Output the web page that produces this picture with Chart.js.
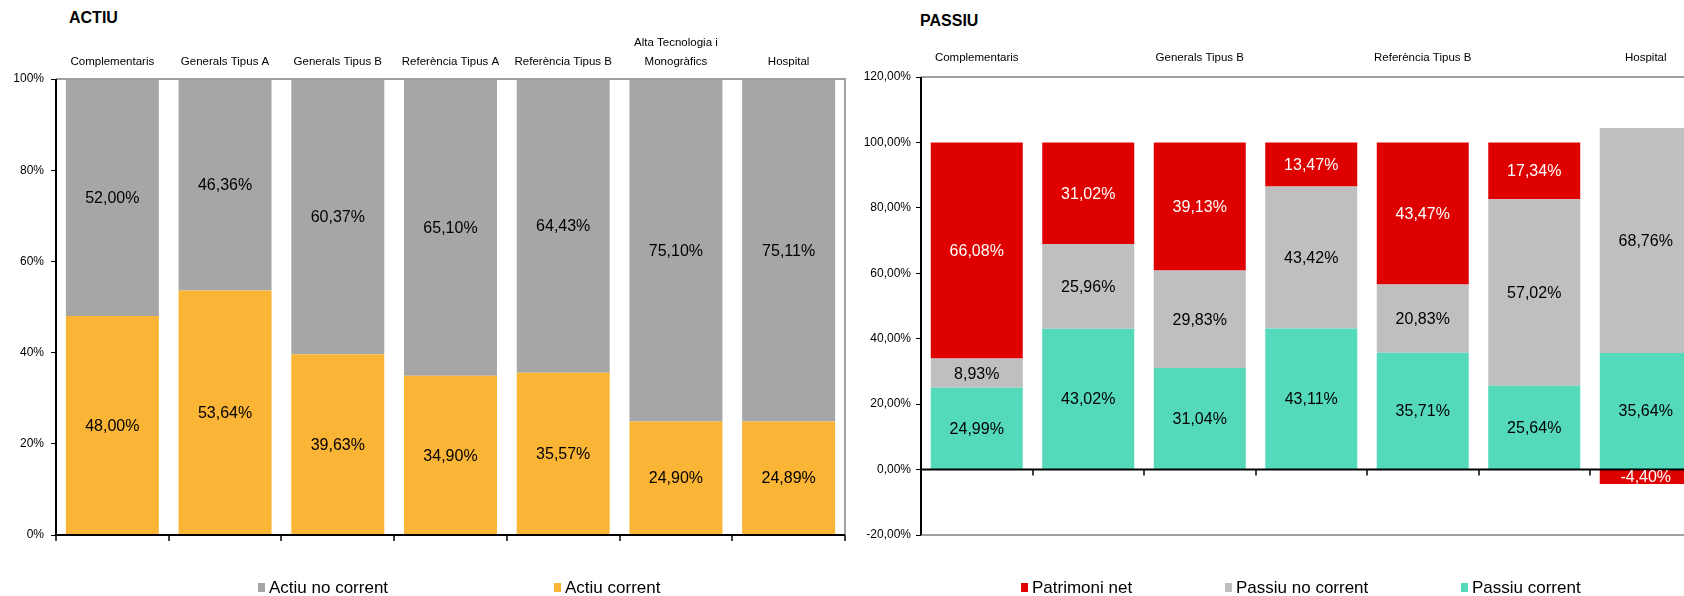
<!DOCTYPE html>
<html><head><meta charset="utf-8">
<script src="https://cdn.jsdelivr.net/npm/chart.js@4.4.0/dist/chart.umd.min.js"></script>
<style>
html,body{margin:0;padding:0;background:#fff;width:1684px;height:596px;overflow:hidden;position:relative;font-family:"Liberation Sans",Arial,sans-serif;}
.box{position:absolute;top:0;height:596px;}
#lbox{left:0;width:846px;}
#rbox{left:846px;width:880px;}
.title{position:absolute;font-weight:bold;font-size:16px;line-height:20px;color:#000;}
.leg{position:absolute;top:578px;height:20px;font-size:17px;line-height:20px;color:#000;white-space:nowrap;}
.leg i{position:absolute;left:0;top:5px;width:7px;height:9px;}
.leg span{position:absolute;left:11px;top:0;}
</style></head>
<body>
<div class="title" style="left:69px;top:8px;">ACTIU</div>
<div class="title" style="left:920px;top:11px;">PASSIU</div>
<div class="box" id="lbox"><canvas id="c1"></canvas></div>
<div class="box" id="rbox"><canvas id="c2"></canvas></div>
<div id="legends"></div>
<script>
// ---------- DATA ----------
const categories = ['Complementaris','Generals Tipus A','Generals Tipus B','Referència Tipus A','Referència Tipus B','Alta Tecnologia i Monogràfics','Hospital'];
const actiuTickLabels = ['Complementaris','Generals Tipus A','Generals Tipus B','Referència Tipus A','Referència Tipus B',['Alta Tecnologia i','Monogràfics'],'Hospital'];
const passiuTickLabels = ['Complementaris','','Generals Tipus B','','Referència Tipus B','','Hospital'];

const actiuCorrent   = [48.00, 53.64, 39.63, 34.90, 35.57, 24.90, 24.89];
const actiuNoCorrent = [52.00, 46.36, 60.37, 65.10, 64.43, 75.10, 75.11];

const passiuCorrent   = [24.99, 43.02, 31.04, 43.11, 35.71, 25.64, 35.64];
const passiuNoCorrent = [ 8.93, 25.96, 29.83, 43.42, 20.83, 57.02, 68.76];
const patrimoniNet    = [66.08, 31.02, 39.13, 13.47, 43.47, 17.34, -4.40];

const actiuYTicks  = [0, 20, 40, 60, 80, 100];
const passiuYTicks = [-20, 0, 20, 40, 60, 80, 100, 120];

// ---------- STYLE ----------
const FONT = '"Liberation Sans", Arial, sans-serif';
const COL = {acNo:'#A6A6A6', ac:'#FBB536', pat:'#DF0000', pNo:'#BFBFBF', pc:'#54D9BB'};
const fmt2 = v => v.toFixed(2).replace('.', ',') + '%';

const framePlugin = {
  id: 'frame',
  afterDatasetsDraw(chart, args, opts) {
    const {ctx, chartArea: a, scales: {x, y}} = chart;
    ctx.save();
    ctx.lineWidth = 2;
    ctx.strokeStyle = '#A0A0A0';
    ctx.beginPath();
    ctx.moveTo(a.left, a.top); ctx.lineTo(a.right, a.top); ctx.lineTo(a.right, a.bottom);
    if (opts.bottomGray) ctx.lineTo(a.left, a.bottom);
    ctx.stroke();
    ctx.strokeStyle = '#000';
    ctx.beginPath(); ctx.moveTo(a.left, a.top); ctx.lineTo(a.left, a.bottom + (opts.bottomGray ? 0 : 1)); ctx.stroke();
    const y0 = y.getPixelForValue(0);
    ctx.beginPath(); ctx.moveTo(a.left - 1, y0); ctx.lineTo(a.right, y0); ctx.stroke();
    ctx.lineWidth = 1.5;
    const n = chart.data.labels.length;
    for (let i = 0; i <= n; i++) {
      const px = Math.round(x.getPixelForValue(i - 0.5));
      ctx.beginPath(); ctx.moveTo(px, y0); ctx.lineTo(px, y0 + 6); ctx.stroke();
    }
    ctx.restore();
  }
};

const labelPlugin = {
  id: 'vlabels',
  afterDatasetsDraw(chart) {
    const ctx = chart.ctx;
    ctx.save();
    ctx.font = '16px ' + FONT;
    ctx.textAlign = 'center';
    ctx.textBaseline = 'middle';
    chart.data.datasets.forEach((ds, di) => {
      const meta = chart.getDatasetMeta(di);
      meta.data.forEach((el, i) => {
        const p = el.getProps(['x', 'y', 'base'], true);
        ctx.fillStyle = ds.labelColor;
        ctx.fillText(fmt2(ds.data[i]), p.x, (p.y + p.base) / 2 + 1);
      });
    });
    ctx.restore();
  }
};

function makeChart(id, datasets, yTicks, yFmt, tickLabels, yWidth, xHeight, xPad, yPad, padRight, bottomGray) {
  return new Chart(document.getElementById(id), {
    type: 'bar',
    data: {labels: categories, datasets: datasets},
    options: {
      responsive: true, maintainAspectRatio: false, animation: false,
      layout: {padding: {left: 0, right: padRight, top: 0, bottom: 61}},
      plugins: {legend: {display: false}, tooltip: {enabled: false}, frame: {bottomGray: bottomGray}},
      datasets: {bar: {categoryPercentage: 1, barPercentage: 0.825, borderWidth: 0}},
      scales: {
        x: {
          stacked: true, position: 'top', offset: true,
          grid: {display: false}, border: {display: false},
          ticks: {autoSkip: false, maxRotation: 0, color: '#000', padding: xPad,
                  font: {size: 11.5, family: FONT, lineHeight: '19px'},
                  callback: (v, i) => tickLabels[i]},
          afterFit(s) { s.height = xHeight; }
        },
        y: {
          stacked: true, min: yTicks[0], max: yTicks[yTicks.length - 1],
          afterBuildTicks(s) { s.ticks = yTicks.map(v => ({value: v})); },
          ticks: {color: '#000', padding: yPad, font: {size: 12, family: FONT}, callback: v => yFmt(v)},
          grid: {drawOnChartArea: false, drawTicks: true, tickLength: 5, color: '#000', lineWidth: 1},
          border: {display: false},
          afterFit(s) { s.width = yWidth; }
        }
      }
    },
    plugins: [framePlugin, labelPlugin]
  });
}

makeChart('c1', [
  {label: 'Actiu corrent', data: actiuCorrent, backgroundColor: COL.ac, labelColor: '#000'},
  {label: 'Actiu no corrent', data: actiuNoCorrent, backgroundColor: COL.acNo, labelColor: '#000'}
], actiuYTicks, v => v + '%', actiuTickLabels, 56, 79, 0, 7, 1, false);

makeChart('c2', [
  {label: 'Passiu corrent', data: passiuCorrent, backgroundColor: COL.pc, labelColor: '#000'},
  {label: 'Passiu no corrent', data: passiuNoCorrent, backgroundColor: COL.pNo, labelColor: '#000'},
  {label: 'Patrimoni net', data: patrimoniNet, backgroundColor: COL.pat, labelColor: '#fff'}
], passiuYTicks, fmt2, passiuTickLabels, 75, 77, 1.5, 5, 24.5, true);

// ---------- LEGENDS ----------
const legendItems = [
  {text: 'Actiu no corrent', color: COL.acNo, x: 258},
  {text: 'Actiu corrent', color: COL.ac, x: 554},
  {text: 'Patrimoni net', color: COL.pat, x: 1021},
  {text: 'Passiu no corrent', color: COL.pNo, x: 1225},
  {text: 'Passiu corrent', color: COL.pc, x: 1461}
];
const lg = document.getElementById('legends');
legendItems.forEach(it => {
  const d = document.createElement('div');
  d.className = 'leg'; d.style.left = it.x + 'px';
  d.innerHTML = '<i style="background:' + it.color + '"></i><span>' + it.text + '</span>';
  lg.appendChild(d);
});
</script>
</body></html>
